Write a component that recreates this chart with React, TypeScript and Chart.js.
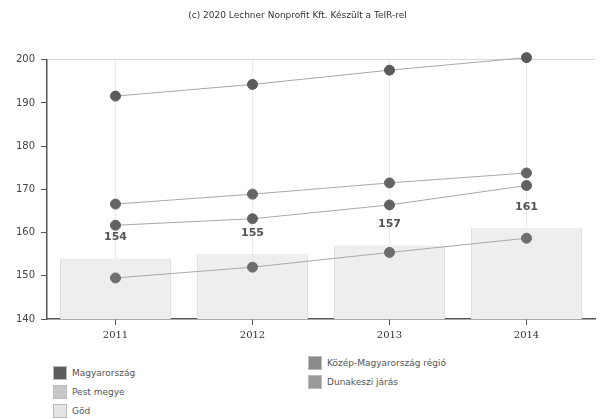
import React, { useEffect, useRef } from "react";
import { Chart, registerables } from "chart.js";

Chart.register(...registerables);

const TITLE = "(c) 2020 Lechner Nonprofit Kft. Készült a TeIR-rel";
const YEARS = ["2011", "2012", "2013", "2014"];
const GOD = [154, 155, 157, 161];
const MAGYARORSZAG = [191.6, 194.3, 197.6, 200.5];
const KOZEP = [166.6, 168.9, 171.5, 173.8];
const PEST = [161.7, 163.2, 166.4, 170.9];
const DUNAKESZI = [149.5, 152.0, 155.4, 158.7];
const Y_MIN = 140;
const Y_MAX = 200;
const Y_STEP = 10;

const LEGEND_LEFT = [
  { label: "Magyarország", color: "#5c5c5c" },
  { label: "Pest megye", color: "#c8c8c8" },
  { label: "Göd", color: "#e4e4e4" },
];
const LEGEND_RIGHT = [
  { label: "Közép-Magyarország régió", color: "#8a8a8a" },
  { label: "Dunakeszi járás", color: "#9a9a9a" },
];

const barLabels = {
  id: "barLabels",
  afterDatasetsDraw(chart: any) {
    const meta = chart.getDatasetMeta(0);
    const ctx = chart.ctx;
    ctx.save();
    ctx.font = "bold 11px 'DejaVu Sans'";
    ctx.fillStyle = "#555";
    ctx.textAlign = "center";
    ctx.textBaseline = "middle";
    meta.data.forEach((el: any, i: number) => {
      ctx.fillText(String(GOD[i]), el.x, el.y - 21);
    });
    ctx.restore();
  },
};

export default function App() {
  const ref = useRef<HTMLCanvasElement>(null);
  useEffect(() => {
    if (!ref.current) return;
    const lineDs = (label: string, data: number[], color: string) => ({
      type: "line" as const,
      label,
      data,
      borderColor: "#a8a8a8",
      borderWidth: 1,
      pointRadius: 5,
      pointBackgroundColor: color,
      pointBorderColor: color,
      pointBorderWidth: 1,
      fill: false,
      tension: 0,
      clip: false as any,
      order: 0,
    });
    const chart = new Chart(ref.current, {
      type: "bar",
      data: {
        labels: YEARS,
        datasets: [
          {
            type: "bar",
            label: "Göd",
            data: GOD,
            backgroundColor: "#eeeeee",
            borderColor: "#e0e0e0",
            borderWidth: 1,
            barPercentage: 0.9,
            categoryPercentage: 0.9,
            order: 1,
          } as any,
          lineDs("Magyarország", MAGYARORSZAG, "#5a5a5a"),
          lineDs("Közép-Magyarország régió", KOZEP, "#666666"),
          lineDs("Pest megye", PEST, "#616161"),
          lineDs("Dunakeszi járás", DUNAKESZI, "#6e6e6e"),
        ],
      },
      options: {
        animation: false,
        responsive: false,
        layout: { padding: { top: 0, right: 8, left: 0, bottom: 0 } },
        plugins: {
          legend: { display: false },
          tooltip: { enabled: false },
          title: {
            display: true,
            text: TITLE,
            color: "#333",
            font: { family: "'DejaVu Sans'", size: 9, weight: "normal" },
            padding: { top: 10, bottom: 39 },
          },
        },
        scales: {
          x: {
            grid: {
              offset: false,
              color: "#ebebeb",
              drawTicks: true,
              tickLength: 6,
              tickColor: "#555",
            },
            border: { color: "#555", width: 1.5 },
            ticks: { color: "#333", font: { family: "'DejaVu Serif'", size: 10 }, padding: 4 },
            afterFit: (s: any) => {
              s.height = 26;
            },
          },
          y: {
            min: Y_MIN,
            max: Y_MAX,
            ticks: {
              stepSize: Y_STEP,
              color: "#444",
              font: { family: "'DejaVu Sans'", size: 10 },
              padding: 6,
            },
            grid: {
              color: (c: any) => (c.tick && c.tick.value === Y_MAX ? "#d8d8d8" : "transparent"),
              tickLength: 6,
              tickColor: "#555",
            },
            border: { color: "#555", width: 1.5 },
            afterFit: (s: any) => {
              s.width = 47;
            },
          },
        },
      },
      plugins: [barLabels],
    });
    return () => chart.destroy();
  }, []);

  const item = (it: { label: string; color: string }, x: number, y: number) => (
    <div
      key={it.label}
      style={{
        position: "absolute",
        left: x,
        top: y - 7,
        display: "flex",
        alignItems: "center",
        height: 14,
        fontFamily: "'DejaVu Sans'",
        fontSize: 9,
        color: "#555",
        whiteSpace: "nowrap",
      }}
    >
      <span
        style={{
          display: "inline-block",
          width: 14,
          height: 14,
          background: it.color,
          border: "1px solid #bbb",
          boxSizing: "border-box",
          marginRight: 5,
        }}
      />
      {it.label}
    </div>
  );

  return (
    <div style={{ position: "fixed", left: 0, top: 0, width: 603, height: 419, background: "#fff" }}>
      <canvas ref={ref} width={603} height={345} style={{ display: "block" }} />
      {LEGEND_LEFT.map((it, i) => item(it, 53, 373 + i * 19))}
      {LEGEND_RIGHT.map((it, i) => item(it, 308, 363 + i * 19))}
    </div>
  );
}
